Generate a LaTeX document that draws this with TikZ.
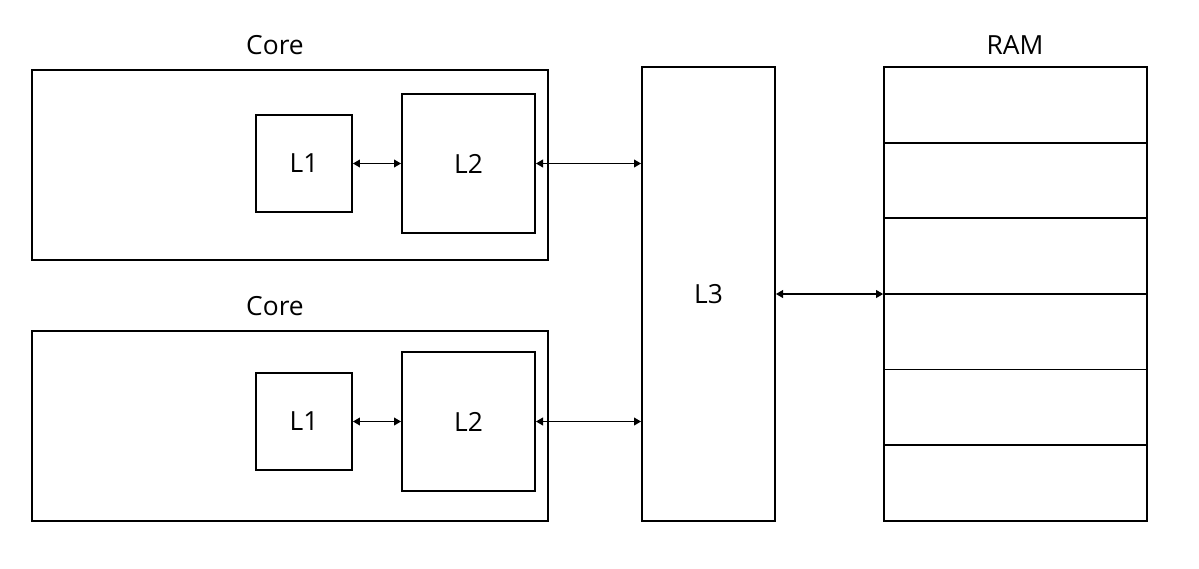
\documentclass[tikz,border=0pt]{standalone}
\usepackage{fontspec}
\setmainfont{Open Sans}
\usepackage{tikz}
\usetikzlibrary{arrows.meta,positioning}

\begin{document}
\begin{tikzpicture}[
    box/.style={rectangle,draw,line width=1.1pt,inner sep=0pt,align=center,font=\fontsize{15}{18}\selectfont},
    cell/.style={rectangle,draw,line width=1pt,inner sep=0pt,minimum width=5.26cm,minimum height=1.513cm},
    title/.style={font=\fontsize{15}{18}\selectfont},
    arrow/.style={{Triangle[length=4pt,width=4.5pt]}-{Triangle[length=4pt,width=4.5pt]},line width=0.6pt}
]
    \useasboundingbox (0,0) rectangle (23.98,-11.36);

    % Upper core
    \node[box,minimum width=10.32cm,minimum height=3.8cm] (corea) at (5.8,-3.3) {};
    \node[title] (corealabel) at (5.5,-0.9) {Core};
    \node[box,minimum width=1.92cm,minimum height=1.94cm] (l1a) at (6.08,-3.27) {L1};
    \node[box,minimum width=2.66cm,minimum height=2.78cm] (l2a) at (9.37,-3.27) {L2};

    % Lower core
    \node[box,minimum width=10.32cm,minimum height=3.8cm] (coreb) at (5.8,-8.52) {};
    \node[title] (coreblabel) at (5.5,-6.12) {Core};
    \node[box,minimum width=1.92cm,minimum height=1.94cm] (l1b) at (6.08,-8.43) {L1};
    \node[box,minimum width=2.66cm,minimum height=2.78cm] (l2b) at (9.37,-8.43) {L2};

    % Shared L3
    \node[box,minimum width=2.66cm,minimum height=9.08cm] (l3) at (14.17,-5.88) {L3};

    % RAM rows
    \foreach \i in {1,...,6}
        \node[cell] (ram\i) at (20.31,{-1.34-(\i-0.5)*1.513}) {};
    \node[title] (ramlabel) at (20.3,-0.9) {RAM};

    % Links
    \draw[arrow] (l1a) -- (l2a);
    \draw[arrow] (l1b) -- (l2b);
    \draw[arrow] (l2a.east) -- (l3.west |- l2a.east);
    \draw[arrow] (l2b.east) -- (l3.west |- l2b.east);
    \draw[arrow] (l3.east) -- (l3.east -| ram3.south west);
\end{tikzpicture}
\end{document}
